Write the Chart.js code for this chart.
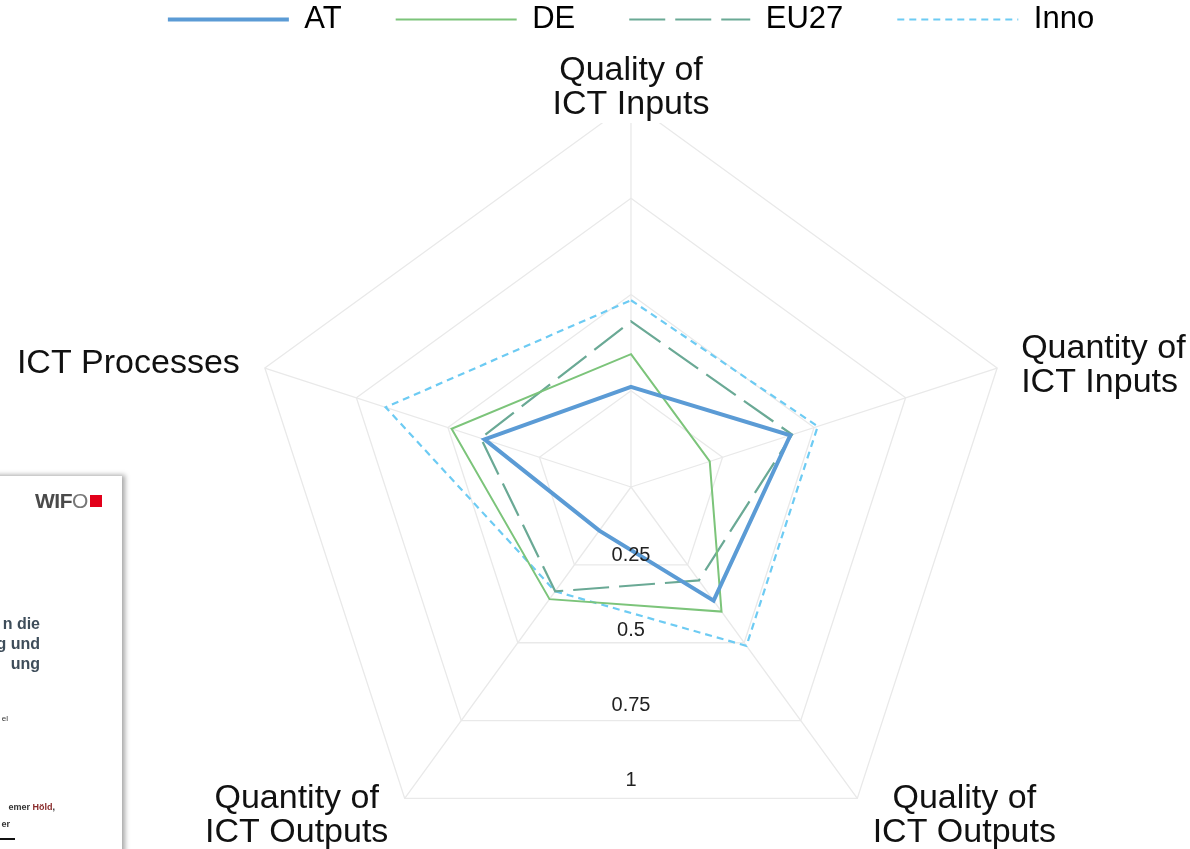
<!DOCTYPE html>
<html>
<head>
<meta charset="utf-8">
<script src="https://cdn.jsdelivr.net/npm/chart.js@4.4.1/dist/chart.umd.min.js"></script>
<style>
  html, body { margin: 0; padding: 0; background: #fff; width: 1190px; height: 849px; overflow: hidden; position: relative; }
  #wrap { position: absolute; left: 0; top: -50px; width: 1190px; height: 922px; }
  #c { display: block; }
  #inset { position: absolute; left: -300px; top: 476px; width: 422px; height: 420px; background: #fff;
           box-shadow: 2px 0 5px 1px rgba(0,0,0,0.35); z-index: 5; font-family: "Liberation Sans", Arial, sans-serif; }
  #inset .logo { position: absolute; left: 335px; top: 14px; font-size: 21px; line-height: 21px; font-weight: bold; color: #4a4a4a; letter-spacing: -0.5px; white-space: nowrap; }
  #inset .logo .o { font-weight: normal; color: #777; }
  #inset .logo .sq { display: inline-block; width: 12px; height: 12px; background: #e2001a; margin-left: 2px; vertical-align: 1px; }
  #inset .head { position: absolute; left: 100px; width: 240px; top: 138px; text-align: right; font-size: 16px; line-height: 20px; font-weight: bold; color: #3e4d5a; }
  #inset .small { position: absolute; left: 100px; width: 210px; text-align: right; font-weight: bold; color: #333; white-space: nowrap; }
  #inset .rule { position: absolute; left: 300px; top: 362px; width: 15px; height: 2px; background: #111; }
</style>
</head>
<body>
<div id="wrap"><canvas id="c" width="1190" height="922"></canvas></div>
<div id="inset">
  <div class="logo"><span>WIF</span><span class="o">O</span><span class="sq"></span></div>
  <div class="head">n die<br>g und<br>ung</div>
  <div class="small" style="top:238px;font-size:8px;font-weight:normal;width:208px;">el</div>
  <div class="small" style="top:326px;font-size:9px;width:255px;">emer <span style="color:#8a2b2b">Höld</span>,</div>
  <div class="small" style="top:343px;font-size:9px;width:210px;">er</div>
  <div class="rule"></div>
</div>
<script>
// ---------- data ----------
const categories = [
  ['Quality of', 'ICT Inputs'],
  ['Quantity of', 'ICT Inputs'],
  ['Quality of', 'ICT Outputs'],
  ['Quantity of', 'ICT Outputs'],
  ['ICT Processes']
];
const seriesNames = ['AT', 'DE', 'EU27', 'Inno'];
const atValues   = [0.26, 0.435, 0.365, 0.14, 0.40];
const deValues   = [0.345, 0.215, 0.40, 0.36, 0.49];
const eu27Values = [0.43, 0.44, 0.30, 0.335, 0.41];
const innoValues = [0.485, 0.51, 0.51, 0.335, 0.67];
const tickValues = [0.25, 0.5, 0.75, 1];
const tickLabels = ['0.25', '0.5', '0.75', '1'];

// ---------- styles ----------
const FONT = '"Liberation Sans", Arial, sans-serif';
const LINE = 34;
const labelLayout = [
  { dx: 0,    dy: -22, align: 'center' },
  { dx: 24,   dy: -10, align: 'left' },
  { dx: 107,  dy: 10,  align: 'center' },
  { dx: -108, dy: 10,  align: 'center' },
  { dx: -25,  dy: 5,   align: 'right' }
];

const axisText = {
  id: 'axisText',
  beforeDatasetsDraw(chart) {
    const s = chart.scales.r;
    const ctx = chart.ctx;
    ctx.save();
    ctx.font = '34px ' + FONT;
    ctx.textBaseline = 'alphabetic';
    categories.forEach((lines, i) => {
      const p = s.getPointPosition(i, s.drawingArea);
      const L = labelLayout[i];
      const widths = lines.map(t => ctx.measureText(t).width);
      const maxW = Math.max(...widths);
      const ax = p.x + L.dx;
      let left = ax;
      if (L.align === 'center') left = ax - maxW / 2;
      else if (L.align === 'right') left = ax - maxW;
      const top = p.y + L.dy - 27;
      const bottom = p.y + L.dy + (lines.length - 1) * LINE + 9;
      ctx.fillStyle = '#ffffff';
      ctx.fillRect(left - 3, top, maxW + 6, bottom - top);
      ctx.fillStyle = '#111111';
      ctx.textAlign = L.align;
      lines.forEach((t, k) => ctx.fillText(t, ax, p.y + L.dy + k * LINE));
    });
    ctx.restore();
  },
  afterDatasetsDraw(chart) {
    const s = chart.scales.r;
    const ctx = chart.ctx;
    ctx.save();
    ctx.font = '20px ' + FONT;
    ctx.textAlign = 'center';
    ctx.textBaseline = 'middle';
    ctx.fillStyle = '#222222';
    tickValues.forEach((v, k) => {
      const d = s.getDistanceFromCenterForValue(v);
      ctx.fillText(tickLabels[k], s.xCenter, s.yCenter + d * 0.78 - 7);
    });
    ctx.restore();
  }
};

const seriesStyles = [
  { color: '#5b9bd5', width: 4,   dash: [] },
  { color: '#7cc47a', width: 2,   dash: [] },
  { color: '#6aa995', width: 2.2, dash: [36, 10] },
  { color: '#6dcbf3', width: 2.2, dash: [7, 5] }
];
const seriesValues = [atValues, deValues, eu27Values, innoValues];

const datasets = seriesNames.map((name, i) => ({
  label: name,
  data: seriesValues[i],
  borderColor: seriesStyles[i].color,
  backgroundColor: 'rgba(0,0,0,0)',
  borderWidth: seriesStyles[i].width,
  borderDash: seriesStyles[i].dash,
  fill: false,
  pointRadius: 0,
  pointHoverRadius: 0,
  tension: 0
}));

new Chart(document.getElementById('c'), {
  type: 'radar',
  data: { labels: categories, datasets },
  plugins: [axisText],
  options: {
    responsive: false,
    animation: false,
    devicePixelRatio: 1,
    layout: { padding: { top: 0, left: 72, right: 0, bottom: 0 } },
    plugins: {
      tooltip: { enabled: false },
      title: { display: true, text: '', position: 'top', weight: 500, font: { size: 1, lineHeight: 1 }, padding: { top: 0, bottom: 56 } },
      legend: {
        display: true,
        position: 'top',
        align: 'center',
        labels: {
          usePointStyle: true,
          pointStyle: 'line',
          pointStyleWidth: 121,
          boxWidth: 121,
          boxHeight: 31,
          padding: 54,
          color: '#000',
          font: { size: 31, family: FONT },
          generateLabels: (chart) => chart.data.datasets.map((ds, i) => ({
            text: ds.label,
            fillStyle: 'rgba(0,0,0,0)',
            strokeStyle: ds.borderColor,
            lineWidth: ds.borderWidth,
            lineDash: ds.borderDash,
            lineCap: 'butt',
            pointStyle: 'line',
            hidden: !chart.isDatasetVisible(i),
            datasetIndex: i,
            fontColor: '#000'
          }))
        }
      }
    },
    scales: {
      r: {
        min: 0,
        max: 1,
        ticks: { display: false, stepSize: 0.25 },
        pointLabels: { display: false },
        grid: { color: '#e9e9e9', lineWidth: 1.3 },
        angleLines: { color: '#e9e9e9', lineWidth: 1.3 }
      }
    }
  }
});
</script>
</body>
</html>
